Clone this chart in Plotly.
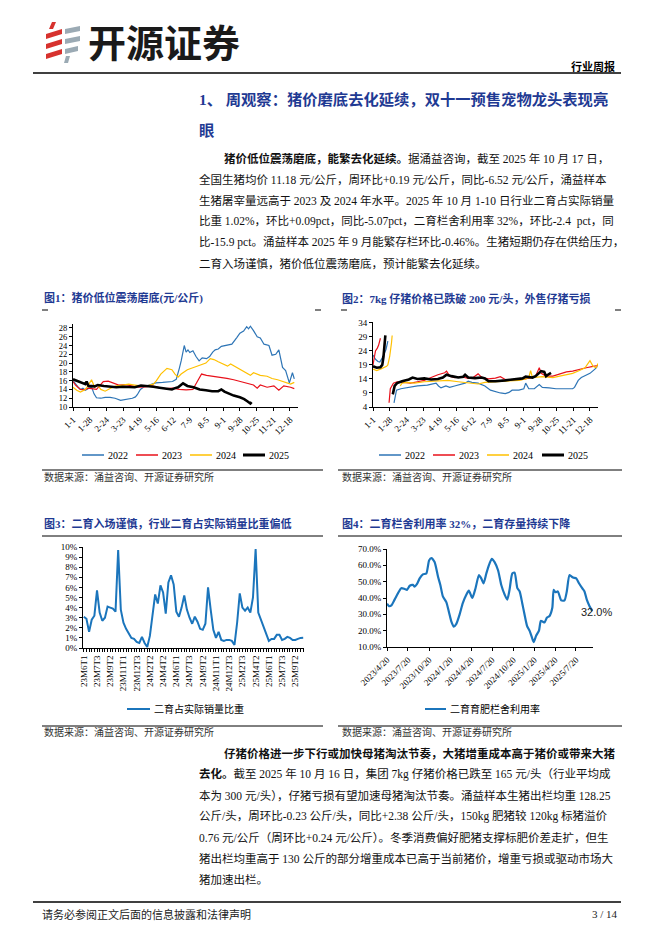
import plotly.graph_objects as go

W, H = 662, 936
def X(p): return p / W
def Y(p): return 1 - p / H

NAVY = "#1F3A93"
C22, C23, C24, C25 = "#2E75B6", "#E8101A", "#FFC000", "#000000"
LBLUE = "#1B75BC"
SERIF = "Liberation Serif, Noto Sans CJK SC"
CJK = "Noto Sans CJK SC"

# ---------------- data ----------------
doy_ticks = [0, 27, 54, 81, 108, 135, 162, 189, 216, 243, 270, 297, 324, 351]
doy_labels = ["1-1", "1-28", "2-24", "3-23", "4-19", "5-16", "6-12", "7-9",
              "8-5", "9-1", "9-28", "10-25", "11-21", "12-18"]
years = ["2022", "2023", "2024", "2025"]

# Fig1 生猪均价 (元/公斤), x = day of year
p22_d = [0,4,8,12,16,20,25,30,34,38,45,52,60,68,77,85,96,101,104,109,115,123,134,145,155,161,167,170,172,175,178,180,183,186,189,194,199,204,209,216,221,226,230,235,240,249,257,265,270,276,281,284,287,292,298,303,309,317,322,328,333,339,344,350,355,358]
p22_v = [16.0,15.2,14.6,14.0,14.3,13.8,14.2,14.6,13.0,12.1,12.0,12.2,12.2,12.0,11.5,11.7,12.0,12.3,12.8,14.0,14.6,15.0,15.5,15.6,15.7,15.8,16.3,17.5,18.8,20.5,22.5,24.0,22.5,23.0,22.4,22.8,21.5,20.5,21.2,21.0,21.5,22.5,23.0,23.2,23.8,24.0,24.3,25.8,26.8,27.3,28.3,27.8,28.4,27.4,26.0,25.7,24.3,24.0,21.8,22.0,23.0,19.0,18.3,15.5,17.8,16.4]
p23_d = [0,4,8,12,18,25,30,38,44,49,57,66,74,85,96,107,117,128,139,150,161,172,183,194,197,202,208,216,227,238,249,260,271,281,292,298,303,314,325,333,341,352,358]
p23_v = [15.8,15.0,14.5,14.0,13.9,14.3,14.2,14.0,15.0,15.8,15.9,15.5,15.0,15.1,14.8,14.5,14.6,14.8,14.4,14.2,14.3,14.0,13.9,14.0,14.8,16.0,17.5,17.2,17.0,16.8,16.5,16.2,15.8,15.3,15.0,14.3,15.0,14.5,14.8,13.8,14.8,14.5,14.2]
p24_d = [0,6,12,20,25,30,35,40,45,52,60,70,80,90,100,110,120,130,135,142,152,160,165,170,175,185,195,205,215,222,228,235,242,250,255,265,276,287,292,303,314,322,331,339,347,352,358]
p24_v = [14.5,13.8,13.4,14.0,15.0,16.2,14.5,15.0,14.0,13.6,14.2,14.8,15.0,15.2,15.0,14.8,14.8,15.2,16.0,17.5,18.8,18.5,17.5,16.8,17.5,18.5,19.0,19.5,20.0,21.0,20.8,20.3,19.8,19.3,19.8,19.0,18.0,17.2,17.8,17.2,17.0,16.5,16.2,15.8,15.5,15.2,15.6]
p25_d = [0,5,10,15,20,22,25,35,40,50,60,70,80,90,100,110,120,130,140,150,160,165,170,178,185,195,205,215,225,235,240,245,252,260,270,277,282,287,289]
p25_v = [16.3,16.0,15.8,15.5,15.2,15.8,14.8,14.7,15.0,14.8,14.6,14.5,14.6,14.5,14.5,14.9,14.8,14.6,14.4,14.2,14.0,14.3,14.5,15.4,14.8,14.5,14.0,13.8,13.6,13.6,14.0,13.5,13.0,12.6,12.2,11.8,11.3,10.8,11.1]

# Fig2 7kg 仔猪价格, None = 春节断档
q22_d = [0,4,8,11,15,18,21,24,None,34,36,38,45,56,72,88,94,102,106,110,118,124,132,140,149,154,160,170,181,190,198,206,214,220,225,236,244,247,252,261,269,274,285,296,307,323,326,332,337,345,351,359,363]
q22_v = [22.5,21.0,20.2,20.0,21.5,23.0,24.5,27.5,None,5.5,8.5,10.0,10.5,11.0,11.5,11.8,12.0,12.5,11.5,10.8,11.5,11.0,11.5,12.0,12.5,13.2,12.8,12.5,11.5,10.0,9.5,9.0,8.8,9.2,10.0,10.0,10.5,12.5,10.5,10.5,12.0,11.0,10.8,10.5,10.5,10.5,11.0,13.5,14.5,15.5,16.0,17.5,18.5]
q23_d = [0,2,4,7,9,12,None,26,28,33,39,50,61,72,83,94,105,116,119,124,132,143,154,162,170,176,187,198,206,214,228,242,258,263,269,272,280,291,302,313,323,334,345,356,364]
q23_v = [19.0,21.0,24.0,25.0,26.0,28.5,None,5.5,10.5,12.5,13.0,12.8,12.5,13.0,13.5,14.5,15.5,16.2,16.8,15.0,14.5,14.8,14.2,14.5,15.8,14.5,14.0,14.3,14.8,13.8,13.5,13.8,14.5,15.0,18.0,16.0,15.0,15.0,15.8,16.5,16.8,17.5,18.0,18.5,18.8]
q24_d = [0,6,12,18,22,24,27,30,31,None,44,47,56,67,83,105,121,138,160,170,181,198,214,236,247,252,255,258,274,291,302,313,323,334,343,351,356,361,364]
q24_v = [17.5,17.0,17.5,18.0,18.5,19.0,22.0,27.0,29.5,None,11.5,12.5,12.8,12.5,13.0,13.2,13.5,13.0,12.5,12.2,12.8,13.0,13.2,13.5,14.0,14.5,17.0,14.5,14.8,14.5,15.0,15.5,16.0,17.0,18.0,20.5,18.5,18.0,19.5]
q25_d = [0,6,12,15,17,19,20,None,32,35,39,47,58,64,72,83,94,105,113,119,127,138,146,149,154,165,176,181,187,198,214,231,242,247,258,263,272,277,280,283,288]
q25_v = [18.5,18.0,18.2,19.0,22.0,26.0,29.5,None,8.5,11.5,12.5,13.2,13.8,14.5,14.0,14.2,13.8,14.0,14.5,15.5,15.0,14.5,14.8,15.5,14.5,14.3,14.5,14.2,13.2,13.2,13.5,13.8,14.2,14.8,14.5,15.0,16.8,16.5,15.0,15.5,16.2]

# Fig3 二育占实际销量比重 (%), 按旬
share_labels = ["23M6T1", "23M7T3", "23M9T2", "23M11T1", "23M12T3", "24M2T2", "24M4T2",
                "24M6T1", "24M7T3", "24M9T2", "24M11T1", "24M12T3", "25M2T3", "25M4T2",
                "25M6T1", "25M7T3", "25M9T2"]
share_vals = [3.1,2.9,1.6,2.8,3.2,5.7,3.5,2.7,3.0,4.1,
              4.0,3.9,3.6,9.7,3.8,2.5,1.9,1.4,1.0,0.9,
              0.6,0.5,1.1,0.5,0.1,1.2,3.0,5.3,4.4,6.2,
              5.5,3.4,6.5,7.2,6.3,3.6,3.1,4.0,5.2,3.8,
              3.0,2.4,3.1,2.6,1.9,1.8,2.4,6.0,3.8,1.8,
              1.0,1.6,0.8,0.7,0.8,0.8,0.7,0.3,2.5,5.4,
              4.0,3.7,4.0,3.5,5.0,9.8,3.5,2.8,2.0,1.5,
              0.7,0.9,0.9,1.3,1.3,0.8,0.9,1.1,1.0,0.8,
              0.8,0.9,1.0,1.02]

# Fig4 二育育肥栏舍利用率 (%)
util_dates = ["2023-04-20","2023-04-29","2023-05-09","2023-05-23","2023-06-07","2023-06-21","2023-07-06","2023-07-16","2023-07-28","2023-08-11","2023-08-18","2023-08-28","2023-09-09","2023-09-23","2023-10-08","2023-10-20","2023-10-30","2023-11-13","2023-11-28","2023-12-08","2023-12-19",
              "2024-01-03","2024-01-15","2024-01-25","2024-02-04","2024-02-15","2024-03-01","2024-03-15","2024-03-30","2024-04-10","2024-04-25","2024-05-09","2024-05-24","2024-06-03","2024-06-13","2024-06-25","2024-07-06","2024-07-19","2024-07-31","2024-08-15","2024-08-29","2024-09-13","2024-09-24","2024-10-04","2024-10-16","2024-10-26","2024-11-07","2024-11-17","2024-11-28","2024-12-08","2024-12-19","2024-12-30",
              "2025-01-09","2025-01-17","2025-01-28","2025-02-09","2025-02-17","2025-02-26","2025-03-05","2025-03-16","2025-03-27","2025-04-08","2025-04-14","2025-04-22","2025-05-02","2025-05-17","2025-05-31","2025-06-10","2025-06-22","2025-07-07","2025-07-21","2025-08-02","2025-08-16","2025-08-26","2025-09-05","2025-09-17","2025-09-29"]
util_vals = [36.5,35,35.5,39,43,46,45.5,45,47.5,48,47,48.5,52,54.5,55,63,64.5,62,53,48,41,
             37.5,31,25.5,22.5,24,30,37,42,44.5,40,46,54,52,49,55,60,64,62,57,48,42,39,45,55,55.5,46,44,37,30,23,20,
             16,13,17,20,26,25.5,25,28,29,34,45,43.5,44,38.5,38.5,44,54,52.5,52,49,46,44,39,35,32]
util_tickvals = ["2023-04-20","2023-07-20","2023-10-20","2024-01-20","2024-04-20","2024-07-20",
                 "2024-10-20","2025-01-20","2025-04-20","2025-07-20"]
util_ticktext = ["2023/4/20","2023/7/20","2023/10/20","2024/1/20","2024/4/20","2024/7/20",
                 "2024/10/20","2025/1/20","2025/4/20","2025/7/20"]

# ---------------- figure ----------------
fig = go.Figure()
cols = [C22, C23, C24, C25]
widths = [1.2, 1.2, 1.2, 2.6]
for (d, v), c, w, nm in zip([(p22_d, p22_v), (p23_d, p23_v), (p24_d, p24_v), (p25_d, p25_v)], cols, widths, years):
    fig.add_trace(go.Scatter(x=d, y=v, mode="lines", line=dict(color=c, width=w), name=nm,
                             xaxis="x", yaxis="y", showlegend=False))
for (d, v), c, w, nm in zip([(q22_d, q22_v), (q23_d, q23_v), (q24_d, q24_v), (q25_d, q25_v)], cols, widths, years):
    fig.add_trace(go.Scatter(x=d, y=v, mode="lines", line=dict(color=c, width=w), name=nm,
                             xaxis="x2", yaxis="y2", showlegend=False, connectgaps=False))
fig.add_trace(go.Scatter(x=list(range(len(share_vals))), y=share_vals, mode="lines",
                         line=dict(color=LBLUE, width=2), xaxis="x3", yaxis="y3", showlegend=False))
fig.add_trace(go.Scatter(x=util_dates, y=util_vals, mode="lines",
                         line=dict(color=LBLUE, width=2.2, shape="spline", smoothing=0.6),
                         xaxis="x4", yaxis="y4", showlegend=False))

def ax(size=9, **kw):
    d = dict(showline=True, linecolor="#000", linewidth=1, showgrid=False, zeroline=False,
             ticks="outside", ticklen=3, tickcolor="#000", automargin=False,
             tickfont=dict(family=SERIF, size=size, color="#000"))
    d.update(kw)
    return d

fig.update_layout(
    template="none",
    width=W, height=H, margin=dict(l=0, r=0, t=0, b=0, pad=0, autoexpand=False),
    paper_bgcolor="white", plot_bgcolor="white", showlegend=False,
    xaxis=ax(domain=[X(73), X(298)], range=[0, 364], tickvals=doy_ticks, ticktext=doy_labels,
             tickangle=-45, anchor="y"),
    yaxis=ax(8.5, domain=[Y(407), Y(324)], range=[10, 28.9], tick0=10, dtick=2, anchor="x"),
    xaxis2=ax(domain=[X(373), X(598)], range=[0, 364], tickvals=doy_ticks, ticktext=doy_labels,
              tickangle=-45, anchor="y2"),
    yaxis2=ax(domain=[Y(407), Y(322)], range=[4, 34.3], tick0=4, dtick=5, anchor="x2"),
    xaxis3=ax(domain=[X(83), X(304)], range=[-0.3, len(share_vals) - 0.7],
              tickvals=[i * 5 for i in range(len(share_labels))], ticktext=share_labels,
              tickangle=-90, anchor="y3",
              minor=dict(dtick=1, ticks="outside", ticklen=3, tickcolor="#000")),
    yaxis3=ax(domain=[Y(648), Y(547)], range=[0, 10], dtick=1, ticksuffix="%", anchor="x3"),
    xaxis4=ax(type="date", domain=[X(387), X(593)], range=["2023-04-20", "2025-10-02"],
              tickvals=util_tickvals, ticktext=util_ticktext, tickangle=-45, anchor="y4"),
    yaxis4=ax(domain=[Y(647), Y(549)], range=[10, 70], dtick=10, tickformat=".1f", ticksuffix="%",
              anchor="x4"),
)

ann = []
def text(x, y, s, size, color="#000", family=SERIF, anchor="left", bold=False):
    ann.append(dict(x=X(x), y=Y(y), xref="paper", yref="paper", text=("<b>%s</b>" % s) if bold else s,
                    showarrow=False, xanchor=anchor, yanchor="middle",
                    font=dict(size=size, color=color, family=family)))

shapes = []
def hline(x0, x1, y, w=1.0, color="#000"):
    shapes.append(dict(type="line", xref="paper", yref="paper", x0=X(x0), x1=X(x1), y0=Y(y), y1=Y(y),
                       line=dict(color=color, width=w)))

def poly(pts, color):
    path = "M " + " L ".join("%f,%f" % (X(a), Y(b)) for a, b in pts) + " Z"
    shapes.append(dict(type="path", xref="paper", yref="paper", path=path, fillcolor=color,
                       line=dict(width=0)))

# logo
RED_L, GREY_L = "#D7322E", "#9BAAB4"
poly([(52, 22), (56, 22), (53, 29), (49, 29)], RED_L)
poly([(46, 34), (62, 29), (62, 34), (46, 39)], RED_L)
poly([(46, 44), (62, 39), (62, 44), (46, 49)], RED_L)
poly([(46, 54), (62, 49), (62, 54), (46, 59)], RED_L)
poly([(65, 29), (80, 26), (80, 31), (65, 34)], GREY_L)
poly([(65, 39), (80, 36), (80, 41), (65, 44)], GREY_L)
poly([(65, 49), (78, 46), (78, 51), (65, 54)], GREY_L)
poly([(66, 56), (70, 56), (68, 63), (64, 63)], GREY_L)
text(86, 41, "开源证券", 38, "#1A1A1A", CJK, bold=True)

text(617, 66, "行业周报", 11, "#000", CJK, anchor="right", bold=True)
hline(33, 621, 73, 1.5)

text(197, 100, "1、 周观察：猪价磨底去化延续，双十一预售宠物龙头表现亮", 15.3, NAVY, SERIF, bold=True)
text(197, 131, "眼", 15.3, NAVY, SERIF, bold=True)

para1 = ["<b>猪价低位震荡磨底，能繁去化延续。</b>据涌益咨询，截至 2025 年 10 月 17 日，",
         "全国生猪均价 11.18 元/公斤，周环比+0.19 元/公斤，同比-6.52 元/公斤，涌益样本",
         "生猪屠宰量远高于 2023 及 2024 年水平。2025 年 10 月 1-10 日行业二育占实际销量",
         "比重 1.02%，环比+0.09pct，同比-5.07pct，二育栏舍利用率 32%，环比-2.4  pct，同",
         "比-15.9 pct。涌益样本 2025 年 9 月能繁存栏环比-0.46%。生猪短期仍存在供给压力，",
         "二育入场谨慎，猪价低位震荡磨底，预计能繁去化延续。"]
for i, s in enumerate(para1):
    text(222 if i == 0 else 197, 158 + i * 21, s, 11.5, "#111", SERIF)

# figure titles
text(42, 298, "图1：猪价低位震荡磨底(元/公斤)", 11, NAVY, SERIF, bold=True)
text(340, 298, "图2：7kg 仔猪价格已跌破 200 元/头，外售仔猪亏损", 11, NAVY, SERIF, bold=True)
for a, b in [(42, 48), (315, 321), (341, 347), (615, 621)]:
    hline(a, b, 310, 1.0)

# legends fig1/fig2
for offs in ([82, 136, 190, 243], [379, 433, 487, 542]):
    for xo, c, w, nm in zip(offs, cols, [1.5, 1.5, 1.5, 3.0], years):
        hline(xo, xo + 22, 455, w, c)
        text(xo + 24, 455, nm, 10, "#000", SERIF)

hline(42, 323, 470, 1.0)
hline(338, 622, 470, 1.0)
text(42, 477, "数据来源：涌益咨询、开源证券研究所", 10, "#333", SERIF)
text(340, 477, "数据来源：涌益咨询、开源证券研究所", 10, "#333", SERIF)

text(42, 523, "图3：二育入场谨慎，行业二育占实际销量比重偏低", 11, NAVY, SERIF, bold=True)
text(340, 523, "图4：二育栏舍利用率 32%，二育存量持续下降", 11, NAVY, SERIF, bold=True)
hline(42, 323, 536, 1.0)
hline(338, 622, 536, 1.0)

hline(127, 150, 709, 2.0, LBLUE)
text(152, 709, "二育占实际销量比重", 10, "#000", SERIF)
hline(425, 446, 709, 2.0, LBLUE)
text(448, 709, "二育育肥栏舍利用率", 10, "#000", SERIF)

hline(42, 323, 726, 1.0)
hline(338, 622, 726, 1.0)
text(42, 732, "数据来源：涌益咨询、开源证券研究所", 10, "#333", SERIF)
text(340, 732, "数据来源：涌益咨询、开源证券研究所", 10, "#333", SERIF)

# data label on last point of Fig4
ann.append(dict(x=util_dates[-1], y=util_vals[-1], xref="x4", yref="y4", text="32.0%", showarrow=False,
                xanchor="center", yanchor="middle", xshift=4, yshift=-1,
                font=dict(size=11, color="#222", family="Liberation Sans")))

para2 = ["<b>仔猪价格进一步下行或加快母猪淘汰节奏，大猪增重成本高于猪价或带来大猪</b>",
         "<b>去化。</b>截至 2025 年 10 月 16 日，集团 7kg 仔猪价格已跌至 165 元/头（行业平均成",
         "本为 300 元/头），仔猪亏损有望加速母猪淘汰节奏。涌益样本生猪出栏均重 128.25",
         "公斤/头，周环比-0.23 公斤/头，同比+2.38 公斤/头，150kg 肥猪较 120kg 标猪溢价",
         "0.76 元/公斤（周环比+0.24 元/公斤）。冬季消费偏好肥猪支撑标肥价差走扩，但生",
         "猪出栏均重高于 130 公斤的部分增重成本已高于当前猪价，增重亏损或驱动市场大",
         "猪加速出栏。"]
for i, s in enumerate(para2):
    text(222 if i == 0 else 197, 753 + i * 21, s, 11.5, "#111", SERIF)

hline(33, 621, 902, 1.5)
text(40, 914, "请务必参阅正文后面的信息披露和法律声明", 11, "#222", SERIF)
text(620, 914, "3 / 14", 11, "#222", SERIF, anchor="right")

fig.update_layout(annotations=ann, shapes=shapes)
fig.write_html("out.html", config={"displayModeBar": False},
               post_script="document.body.style.margin='0';document.body.style.padding='0';")
